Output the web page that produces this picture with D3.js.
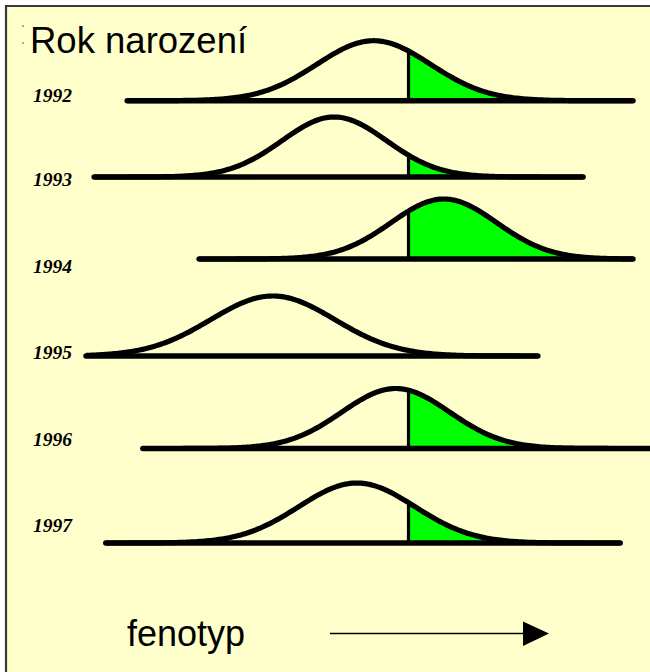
<!DOCTYPE html>
<html>
<head>
<meta charset="utf-8">
<script src="https://cdn.jsdelivr.net/npm/d3@7"></script>
<style>
  html, body { margin: 0; padding: 0; background: #ffffff; }
  svg { display: block; }
</style>
</head>
<body>
<svg id="chart" width="650" height="672"></svg>
<script>
// ---------- data (phenotype units; threshold = 0) ----------
const years      = ["1992", "1993", "1994", "1995", "1996", "1997"];
const means      = [-0.60, -1.28, 0.61, -2.34, -0.22, -0.89];
const sds        = [0.98, 0.90, 0.91, 1.07, 0.93, 1.00];
const lineStart  = [-4.85, -5.42, -3.61, -5.56, -4.58, -5.22];
const lineEnd    = [3.87, 3.01, 3.87, 2.23, 4.40, 3.65];
const showThreshold = [true, true, true, false, true, true];
const threshold  = 0;
const titleText  = "Rok narození";
const axisText   = "fenotyp";

// ---------- layout ----------
const W = 650, H = 672;
const svg = d3.select("#chart");

// frame
svg.append("rect").attr("x", 6).attr("y", 6).attr("width", W - 6).attr("height", H - 6)
  .attr("fill", "#ffffcc");
svg.append("line").attr("x1", 5).attr("x2", W).attr("y1", 6).attr("y2", 6)
  .attr("stroke", "#3a3a3a").attr("stroke-width", 2);
svg.append("line").attr("x1", 6).attr("x2", 6).attr("y1", 5).attr("y2", H)
  .attr("stroke", "#3a3a3a").attr("stroke-width", 2.2);
svg.append("circle").attr("cx", 23).attr("cy", 26).attr("r", 0.8).attr("fill", "#444");
svg.append("circle").attr("cx", 23).attr("cy", 43).attr("r", 0.8).attr("fill", "#444");

// scales
const x = d3.scaleLinear().domain([-6, 4]).range([60.5, 640.5]);
const rowY = d3.scaleOrdinal().domain(years).range([100.7, 177, 259, 356, 448.5, 543]);
const labelY = d3.scaleOrdinal().domain(years).range([102, 186, 273, 359, 446, 532]);
const dens = d3.scaleLinear().domain([0, 1]).range([0, 60]);

const rows = years.map((y, i) => ({
  year: y, mean: means[i], sd: sds[i], start: lineStart[i], end: lineEnd[i], thr: showThreshold[i]
}));

function relDensity(v, r) {
  const z = (v - r.mean) / r.sd;
  return Math.exp(-0.5 * z * z);
}

const N = 240;
rows.forEach(r => {
  const g = svg.append("g");
  const by = rowY(r.year);
  const pts = d3.range(N + 1).map(k => r.start + (r.end - r.start) * k / N);
  const line = d3.line().x(v => x(v)).y(v => by - dens(relDensity(v, r)));

  if (r.thr) {
    const tailPts = [threshold].concat(pts.filter(v => v > threshold));
    const area = d3.area().x(v => x(v)).y0(by).y1(v => by - dens(relDensity(v, r)));
    g.append("path").attr("d", area(tailPts)).attr("fill", "#00ff00");
    g.append("line")
      .attr("x1", x(threshold)).attr("x2", x(threshold))
      .attr("y1", by).attr("y2", by - dens(relDensity(threshold, r)))
      .attr("stroke", "#000").attr("stroke-width", 3.2);
  }
  g.append("path").attr("d", line(pts)).attr("fill", "none")
    .attr("stroke", "#000").attr("stroke-width", 5.2).attr("stroke-linejoin", "round");
  g.append("line")
    .attr("x1", x(r.start)).attr("x2", x(r.end)).attr("y1", by).attr("y2", by)
    .attr("stroke", "#000").attr("stroke-width", 5.5).attr("stroke-linecap", "round");

  svg.append("text").attr("x", 33).attr("y", labelY(r.year))
    .attr("font-family", "'Liberation Serif', 'Times New Roman', serif")
    .attr("font-style", "italic").attr("font-weight", "bold")
    .attr("font-size", 19.5).attr("fill", "#000").text(r.year);
});

// title
svg.append("text").attr("x", 30).attr("y", 53)
  .attr("font-family", "'Liberation Sans', Arial, sans-serif")
  .attr("font-size", 36.5).attr("fill", "#000").text(titleText);

// axis label with arrow
svg.append("text").attr("x", 127).attr("y", 646)
  .attr("font-family", "'Liberation Sans', Arial, sans-serif")
  .attr("font-size", 36).attr("fill", "#000").text(axisText);
svg.append("line").attr("x1", 330).attr("x2", 525).attr("y1", 633.5).attr("y2", 633.5)
  .attr("stroke", "#000").attr("stroke-width", 1.5);
svg.append("path")
  .attr("d", d3.line()([[523, 621.5], [549, 633.5], [523, 646]]) + "Z")
  .attr("fill", "#000");
</script>
</body>
</html>
